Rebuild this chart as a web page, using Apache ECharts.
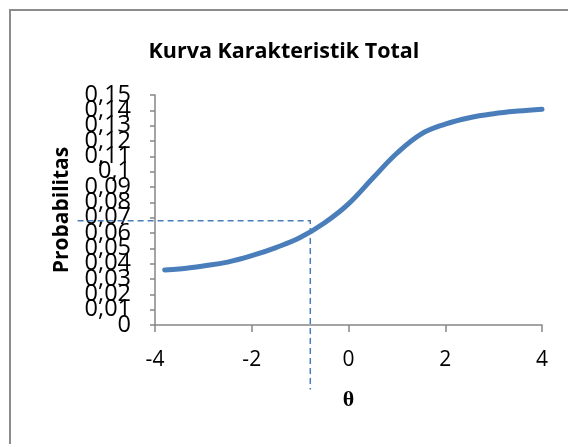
<!DOCTYPE html>
<html>
<head>
<meta charset="utf-8">
<script src="https://cdn.jsdelivr.net/npm/echarts@6/dist/echarts.min.js"></script>
<style>html,body{margin:0;padding:0;background:#fff}#c{width:568px;height:444px}</style>
</head>
<body>
<div id="c"></div>
<script>
var theta = [-3.8, -3.5, -3, -2.5, -2, -1.5, -1, -0.5, 0, 0.5, 1, 1.5, 2, 2.5, 3, 3.5, 4];
var prob = [0.0359, 0.0365, 0.0385, 0.0410, 0.0452, 0.0505, 0.0570, 0.0665, 0.0790, 0.0957, 0.1120, 0.1245, 0.1310, 0.1352, 0.1378, 0.1395, 0.1407];
var guideX = [-5.6, -0.79, -0.79];
var guideY = [0.068, 0.068, -0.042];
var xTicks = [-4, -2, 0, 2, 4];
var yTicks = [0, 0.01, 0.02, 0.03, 0.04, 0.05, 0.06, 0.07, 0.08, 0.09, 0.1, 0.11, 0.12, 0.13, 0.14, 0.15];

var chart = echarts.init(document.getElementById('c'));
var blue = '#4a7ebb';
var gray = '#868686';

function fmtY(v) { return String(Math.round(v * 100) / 100).replace('.', ','); }
function yAxisFor(group, primary) {
  var vals = yTicks.filter(function (t, i) { return i % 3 === group; });
  return {
    type: 'value', min: 0, max: 0.15, interval: 0.01, position: 'left', offset: 0,
    name: primary ? 'Probabilitas' : '', nameLocation: 'middle', nameGap: 82,
    nameTextStyle: {fontFamily: 'Open Sans', fontWeight: 'bold', fontSize: 21, color: '#000'},
    axisLine: {show: primary, onZero: false, lineStyle: {color: gray, width: 1.5}},
    axisTick: {show: primary, length: 5, lineStyle: {color: gray, width: 1.5}},
    axisLabel: {fontFamily: 'Open Sans', fontSize: 23.5, color: '#000', margin: 24,
      customValues: vals, showMinLabel: true, showMaxLabel: true,
      formatter: fmtY},
    splitLine: {show: false}
  };
}

chart.setOption({
  animation: false,
  title: {
    text: 'Kurva Karakteristik Total',
    left: 'center', top: 36,
    textStyle: {fontFamily: 'Open Sans', fontWeight: 'bold', fontSize: 21.5, color: '#000'}
  },
  graphic: [{
    type: 'rect', shape: {x: 10, y: 10, width: 600, height: 500},
    style: {fill: 'none', stroke: '#8c8c8c', lineWidth: 2}, silent: true
  }],
  grid: {left: 155, right: 26, top: 95, bottom: 119},
  xAxis: {
    type: 'value', min: -4, max: 4, interval: 2,
    name: 'θ', nameLocation: 'middle', nameGap: 64,
    nameTextStyle: {fontFamily: 'Liberation Serif', fontWeight: 'bold', fontSize: 22, color: '#000'},
    axisLine: {onZero: false, lineStyle: {color: gray, width: 1.5}},
    axisTick: {show: true, length: 7, lineStyle: {color: gray, width: 1.5}},
    axisLabel: {fontFamily: 'Open Sans', fontSize: 21, color: '#000', margin: 25,
      formatter: function (v) { return xTicks.indexOf(v) >= 0 ? String(v) : ''; }},
    splitLine: {show: false}
  },
  yAxis: [yAxisFor(0, true), yAxisFor(1, false), yAxisFor(2, false)],
  series: [{
    type: 'line', smooth: 0.4, showSymbol: false, clip: false, yAxisIndex: 0,
    data: theta.map(function (t, i) { return [t, prob[i]]; }),
    lineStyle: {color: blue, width: 5, cap: 'round'}
  }, {
    type: 'custom', clip: false, z: 1, silent: true, yAxisIndex: 0,
    data: guideX.map(function (t, i) { return [t, guideY[i]]; }),
    renderItem: function (params, api) {
      if (params.dataIndex !== 0) return null;
      var pts = guideX.map(function (t, i) { return api.coord([t, guideY[i]]); });
      return {
        type: 'polyline',
        shape: {points: pts},
        style: {stroke: blue, lineWidth: 1.5, lineDash: [6, 4], fill: null}
      };
    }
  }]
});
</script>
</body>
</html>
